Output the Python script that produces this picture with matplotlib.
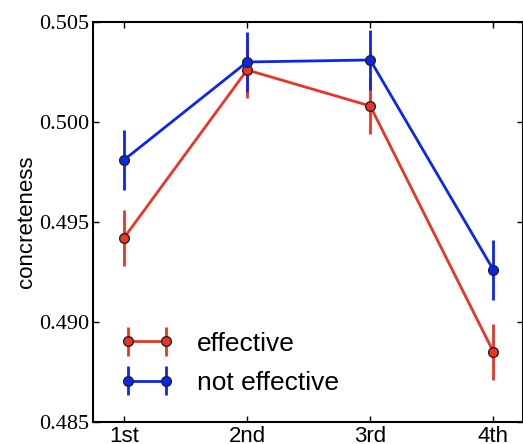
import numpy as np
import matplotlib.pyplot as plt
from matplotlib.container import ErrorbarContainer
from matplotlib.legend_handler import HandlerErrorbar

plt.rcParams['font.family'] = ['Liberation Sans', 'DejaVu Sans']

positions = ['1st', '2nd', '3rd', '4th']
effective = [0.4942, 0.5026, 0.5008, 0.4885]
effective_err = [0.0014, 0.0014, 0.0014, 0.0014]
not_effective = [0.4981, 0.5030, 0.5031, 0.4926]
not_effective_err = [0.0015, 0.0015, 0.0015, 0.0015]
yticks = [0.485, 0.490, 0.495, 0.500, 0.505]

red = '#ee3325'
blue = '#0a26f2'

x = np.arange(1, len(positions) + 1)

fig = plt.figure(figsize=(5.23, 4.44), dpi=100)
ax = fig.add_axes([0.178, 0.0495, 0.822, 0.901])

ax.errorbar(x, effective, yerr=effective_err, color=red, lw=2, elinewidth=2,
            marker='o', ms=7, mfc=red, mec='#222222', mew=1, capsize=0, label='effective')
ax.errorbar(x, not_effective, yerr=not_effective_err, color=blue, lw=2, elinewidth=2,
            marker='o', ms=7, mfc=blue, mec='#222222', mew=1, capsize=0, label='not effective')

ax.set_xlim(0.75, 4.24)
ax.set_ylim(0.485, 0.505)
ax.set_xticks(x)
ax.set_xticklabels(positions, fontsize=16)
ax.set_yticks(yticks)
ax.set_yticklabels(['%.3f' % v for v in yticks], fontsize=16, family='Liberation Serif')
ax.tick_params(direction='in', top=True, right=True, length=4, width=1, pad=3)
for s in ax.spines.values():
    s.set_linewidth(1.5)
ax.set_ylabel('concreteness', fontsize=16, labelpad=1)

ax.legend(loc='lower left', numpoints=2, frameon=False, fontsize=19,
          bbox_to_anchor=(0.063, 0.0675), borderaxespad=0, borderpad=0,
          handlelength=2.05, handletextpad=0.87, labelspacing=0.58,
          handler_map={ErrorbarContainer: HandlerErrorbar(xerr_size=0.55)})

plt.savefig('out.png', dpi=100)
